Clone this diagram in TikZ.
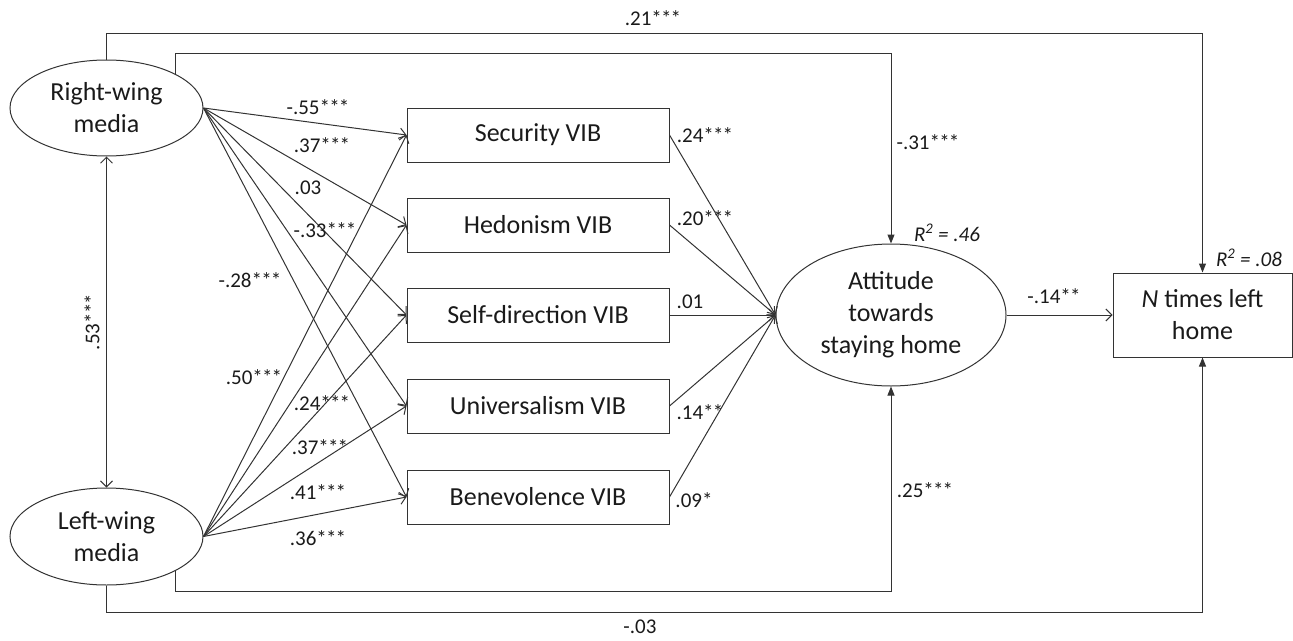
\documentclass[tikz,border=0pt]{standalone}
\usepackage{fontspec}
\setmainfont{Carlito}
\usetikzlibrary{shapes.geometric,arrows.meta}
\definecolor{ln}{HTML}{333333}
\definecolor{tx}{HTML}{1A1A1A}
\newcommand{\sthree}{*\kern-0.8pt*\kern-0.8pt*}
\newcommand{\stwo}{*\kern-0.8pt*}
\tikzset{
  ell/.style={ellipse, draw=ln, line width=1pt, inner sep=0pt, align=center, text=tx,
              font=\fontsize{26}{32}\selectfont},
  vib/.style={rectangle, draw=ln, line width=1pt, minimum width=262pt, minimum height=54pt,
              inner sep=0pt, align=center, text=tx, font=\fontsize{26}{32}\selectfont},
  lab/.style={inner sep=0pt, text=tx, font=\fontsize{21}{25}\selectfont},
  oarr/.style={draw=ln, line width=1pt, -{Straight Barb[length=6pt,width=12pt]}},
  darr/.style={draw=ln, line width=1pt, {Straight Barb[length=6pt,width=12pt]}-{Straight Barb[length=6pt,width=12pt]}},
  farr/.style={draw=ln, line width=1pt, -{Triangle[length=9pt,width=7pt]}}
}
\begin{document}
\begin{tikzpicture}[x=1pt,y=-1pt]
\useasboundingbox (0,0) rectangle (1293,640);
% nodes
\node[ell, minimum width=193pt, minimum height=96pt] (rw) at (106.5,108) {Right-wing\\media};
\node[ell, minimum width=193pt, minimum height=97pt] (lw) at (106.5,536.5) {Left-wing\\media};
\node[vib] (sec) at (538,135) {Security VIB};
\node[vib] (hed) at (538,225) {Hedonism VIB};
\node[vib] (sel) at (538,315) {Self-direction VIB};
\node[vib] (uni) at (538,406) {Universalism VIB};
\node[vib] (ben) at (538,497) {Benevolence VIB};
\node[ell, minimum width=230pt, minimum height=142pt] (att) at (891,315) {Attitude\\towards\\staying home};
\node[vib, minimum width=179pt, minimum height=84pt] (nt) at (1202.5,315) {\itshape N\upshape\ times left\\home};
% helper coordinates for routed paths
\coordinate (y33) at (0,33);
\coordinate (y53) at (0,53);
\coordinate (y591) at (0,591);
\coordinate (y612) at (0,612);
% right-wing paths
\draw[oarr] (rw.east) -- (sec.west);
\draw[oarr] (rw.east) -- (hed.west);
\draw[oarr] (rw.east) -- (sel.west);
\draw[oarr] (rw.east) -- (uni.west);
\draw[oarr] (rw.east) -- (ben.west);
% left-wing paths
\draw[oarr] (lw.east) -- (sec.west);
\draw[oarr] (lw.east) -- (hed.west);
\draw[oarr] (lw.east) -- (sel.west);
\draw[oarr] (lw.east) -- (uni.west);
\draw[oarr] (lw.east) -- (ben.west);
% VIB to attitude
\draw[oarr] (sec.east) -- (att.west);
\draw[oarr] (hed.east) -- (att.west);
\draw[oarr] (sel.east) -- (att.west);
\draw[oarr] (uni.east) -- (att.west);
\draw[oarr] (ben.east) -- (att.west);
% attitude to N
\draw[oarr] (att.east) -- (nt.west);
% correlation
\draw[darr] (rw.south) -- (lw.north);
% direct paths
\draw[farr] (rw.north) |- (nt.north |- y33) -- (nt.north);
\draw[farr] (rw.north east) |- (att.north |- y53) -- (att.north);
\draw[farr] (lw.south east) |- (att.south |- y591) -- (att.south);
\draw[farr] (lw.south) |- (nt.south |- y612) -- (nt.south);
% labels
\node[lab] (l55) at (318,107) {-.55\sthree};
\node[lab] (l37a) at (322,145) {.37\sthree};
\node[lab] (l03) at (308,188) {.03};
\node[lab] (l33) at (325,230) {-.33\sthree};
\node[lab] (l28) at (250,280) {-.28\sthree};
\node[lab] (l50) at (254,377) {.50\sthree};
\node[lab] (l24a) at (322,403) {.24\sthree};
\node[lab] (l37b) at (320,447) {.37\sthree};
\node[lab] (l41) at (318,492) {.41\sthree};
\node[lab] (l36) at (318,538) {.36\sthree};
\node[lab, rotate=90] (l53) at (92,322) {.53\sthree};
\node[lab] (r24) at (705,135) {.24\sthree};
\node[lab] (r20) at (705,218) {.20\sthree};
\node[lab] (r01) at (690,302) {.01};
\node[lab] (r14) at (700,412) {.14\stwo};
\node[lab] (r09) at (694,500) {.09*};
\node[lab] (l21) at (653,18) {.21\sthree};
\node[lab] (l03b) at (640,627) {-.03};
\node[lab] (l31) at (928,142) {-.31\sthree};
\node[lab] (l25) at (925,490) {.25\sthree};
\node[lab] (l14) at (1054,296) {-.14\stwo};
\node[lab, font=\itshape\fontsize{21}{25}\selectfont] (r46) at (947,233) {R\textsuperscript{2} = .46};
\node[lab, font=\itshape\fontsize{21}{25}\selectfont] (r08) at (1249,258) {R\textsuperscript{2} = .08};
\end{tikzpicture}
\end{document}
